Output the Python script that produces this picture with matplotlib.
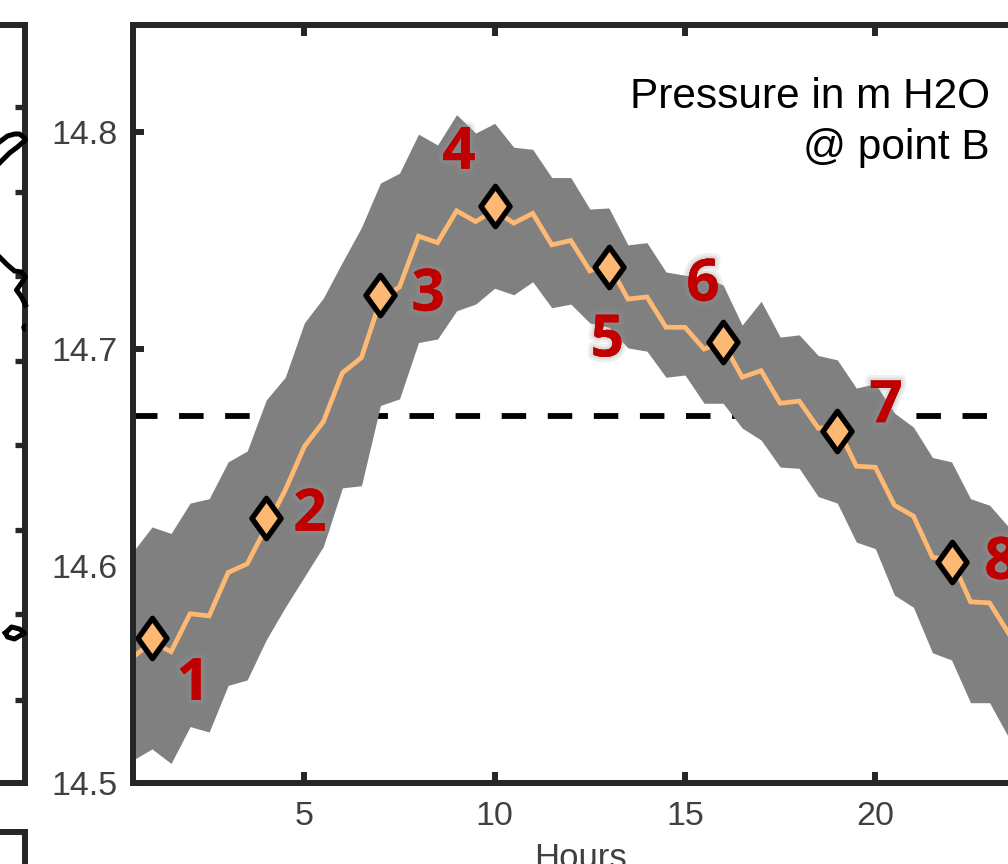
import matplotlib
matplotlib.use("Agg")
import matplotlib.pyplot as plt
import matplotlib.patheffects as pe
from matplotlib.path import Path

plt.rcParams['font.family'] = ['Liberation Sans', 'DejaVu Sans']

hours = [0.5 + 0.5 * i for i in range(47)]
median = [14.558, 14.565, 14.5605, 14.578, 14.577, 14.597, 14.601, 14.618, 14.635, 14.655,
          14.6665, 14.689, 14.696, 14.7226, 14.7286, 14.752, 14.749, 14.7637, 14.7587, 14.764,
          14.758, 14.7625, 14.748, 14.750, 14.736, 14.739, 14.723, 14.724, 14.710, 14.710,
          14.700, 14.703, 14.687, 14.690, 14.675, 14.676, 14.6635, 14.664, 14.646, 14.6455,
          14.628, 14.623, 14.604, 14.603, 14.5835, 14.583, 14.569]
upper = [14.6066, 14.618, 14.615, 14.629, 14.631, 14.648, 14.653, 14.6765, 14.687, 14.712,
         14.7235, 14.740, 14.756, 14.7765, 14.781, 14.799, 14.794, 14.808, 14.7995, 14.804,
         14.793, 14.792, 14.779, 14.779, 14.7645, 14.765, 14.748, 14.749, 14.7355, 14.734,
         14.733, 14.7295, 14.711, 14.722, 14.7055, 14.7065, 14.697, 14.695, 14.682, 14.684,
         14.6705, 14.664, 14.650, 14.648, 14.631, 14.628, 14.618]
lower = [14.5106, 14.5157, 14.509, 14.526, 14.5235, 14.545, 14.5475, 14.566, 14.581, 14.595,
         14.609, 14.636, 14.637, 14.674, 14.677, 14.703, 14.7046, 14.7176, 14.7207, 14.728,
         14.725, 14.731, 14.719, 14.7207, 14.712, 14.710, 14.7005, 14.699, 14.687, 14.688,
         14.675, 14.675, 14.6636, 14.658, 14.6456, 14.645, 14.632, 14.629, 14.611, 14.608,
         14.5866, 14.581, 14.560, 14.5567, 14.537, 14.537, 14.521]
marker_hours = [1, 4, 7, 10, 13, 16, 19, 22]
marker_values = [14.567, 14.622, 14.725, 14.766, 14.738, 14.703, 14.662, 14.602]
threshold = 14.669
label_text = ['1', '2', '3', '4', '5', '6', '7', '8']
label_x = [2.08, 5.15, 8.25, 9.06, 12.96, 15.47, 20.28, 23.3]
label_y = [14.5452, 14.6232, 14.7246, 14.79, 14.7035, 14.7292, 14.6732, 14.601]
x_ticks = [5, 10, 15, 20]
y_ticks = [14.5, 14.6, 14.7, 14.8]
y_tick_labels = ['14.5', '14.6', '14.7', '14.8']

# fragment of the neighbouring map panel (arbitrary map units, right edge = 500)
coast_a_x = [475, 483, 490, 495, 500, 501, 493, 485, 475]
coast_a_y = [641, 647, 649, 649, 645, 643, 636, 630, 620]
coast_b_x = [475, 483, 490, 497, 501, 497, 492, 497, 501]
coast_b_y = [526, 518, 512, 511, 506, 500, 493, 486, 478]
coast_c_x = [481, 487, 495, 500, 490, 483, 481]
coast_c_y = [150, 156, 154, 150, 144, 146, 150]
coast_d_x = [500]
coast_d_y = [456]
map_ticks = [83, 169, 253, 338, 422, 507, 591, 676]

W, H = 1008, 864
fig = plt.figure(figsize=(W / 100, H / 100), dpi=100, facecolor='white')

SP = '#262626'
TXT = '#404040'
lw = 4.3

# left map panel
mp = fig.add_axes([(24.5 - 500) / W, (H - 783) / H, 500 / W, 758 / H])
mp.set_xlim(0, 500)
mp.set_ylim(0, 758)
for cx, cy in ((coast_a_x, coast_a_y), (coast_b_x, coast_b_y), (coast_c_x, coast_c_y)):
    mp.plot(cx, cy, color='k', lw=3.6, zorder=8, clip_on=False)
mp.plot(coast_d_x, coast_d_y, 'o', color='k', ms=5, zorder=8)
mp.set_xticks([])
mp.yaxis.tick_right()
mp.set_yticks(map_ticks)
mp.tick_params(axis='y', direction='in', length=7, width=3.8, color=SP, labelright=False)
for s in mp.spines.values():
    s.set_linewidth(lw)
    s.set_color(SP)

# lower panel fragment
bp = fig.add_axes([(24.5 - 500) / W, -0.2, 500 / W, 0.2 + (H - 832) / H])
bp.set_xticks([])
bp.set_yticks([])
for s in bp.spines.values():
    s.set_linewidth(lw)
    s.set_color(SP)

# main panel
ax = fig.add_axes([133 / W, (H - 783) / H, 38.07 * 23.5 / W, 758 / H])
ax.set_xlim(0.5, 24)
ax.set_ylim(14.5, 14.5 + 758 / 2170)

ax.axhline(threshold, color='k', lw=4.2, dashes=(4.2, 3.7), zorder=1)
ax.fill_between(hours, lower, upper, color='#808080', lw=0, zorder=2)
ax.plot(hours, median, color='#FDB873', lw=3.4, zorder=3, solid_joinstyle='miter')
diamond = Path([(0, 1), (0.72, 0), (0, -1), (-0.72, 0), (0, 1)], closed=True)
ax.plot(marker_hours, marker_values, ls='none', marker=diamond, ms=29, mfc='#FDB873',
        mec='k', mew=3.9, zorder=4)

for t, x, y in zip(label_text, label_x, label_y):
    ax.text(x, y, t, color='#C00000', fontsize=42, fontweight='bold', family='Open Sans',
            ha='center', va='center', zorder=6,
            path_effects=[pe.withStroke(linewidth=8, foreground=(0.6, 0.6, 0.6, 0.15)),
                          pe.withStroke(linewidth=4, foreground=(0.6, 0.6, 0.6, 0.2))])

ax.text(23.01, 14.8161, 'Pressure in m H2O', ha='right', va='center', fontsize=30.5, color='k', zorder=6)
ax.text(23.01, 14.7926, '@ point B', ha='right', va='center', fontsize=30.5, color='k', zorder=6)

ax.set_xticks(x_ticks)
ax.set_yticks(y_ticks, y_tick_labels)
ax.tick_params(axis='both', direction='in', length=8, width=lw, color=SP, top=True, right=True,
               labelsize=24.5, labelcolor=TXT)
ax.tick_params(axis='x', pad=13)
ax.tick_params(axis='y', pad=11)
ax.set_xlabel('Hours', fontsize=25, color=TXT, labelpad=7)
for s in ax.spines.values():
    s.set_linewidth(lw)
    s.set_color(SP)
    s.set_zorder(7)

fig.savefig('out.png', dpi=100)
